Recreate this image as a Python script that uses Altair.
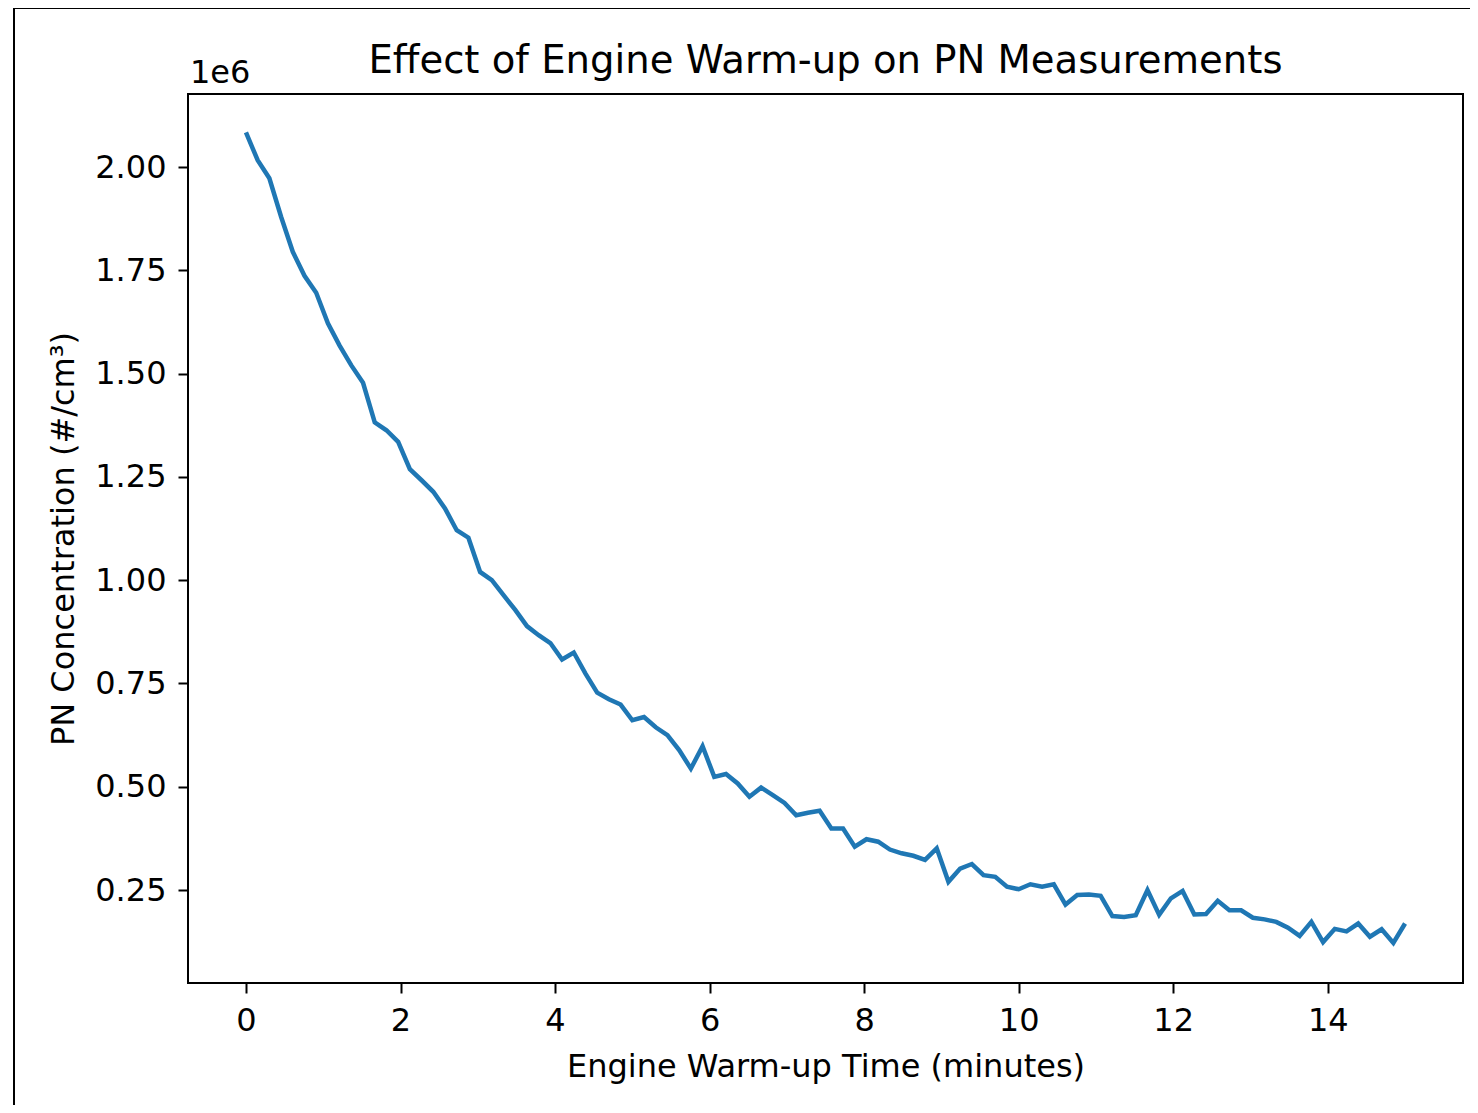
import altair as alt
import pandas as pd
import numpy as np

# Engine warm-up time (minutes): 100 evenly spaced samples from 0 to 15
n_points = 100
time_start, time_end = 0.0, 15.0

# PN concentration in units of 1e6 #/cm3
pn_millions = [
    2.084, 2.017, 1.973, 1.880, 1.795, 1.737, 1.696, 1.622, 1.568, 1.520,
    1.478, 1.382, 1.363, 1.335, 1.269, 1.242, 1.214, 1.174, 1.121, 1.103,
    1.020, 1.000, 0.964, 0.928, 0.889, 0.867, 0.848, 0.808, 0.825, 0.774,
    0.728, 0.712, 0.699, 0.661, 0.669, 0.644, 0.625, 0.589, 0.544, 0.598,
    0.524, 0.531, 0.508, 0.476, 0.498, 0.480, 0.461, 0.431, 0.437, 0.442,
    0.399, 0.399, 0.355, 0.373, 0.367, 0.348, 0.339, 0.333, 0.323, 0.351,
    0.270, 0.302, 0.313, 0.286, 0.282, 0.258, 0.252, 0.264, 0.258, 0.264,
    0.215, 0.238, 0.239, 0.236, 0.187, 0.185, 0.189, 0.250, 0.190, 0.230,
    0.248, 0.191, 0.192, 0.224, 0.201, 0.201, 0.183, 0.179, 0.173, 0.159,
    0.139, 0.173, 0.124, 0.156, 0.150, 0.169, 0.137, 0.155, 0.122, 0.169,
]

x_ticks = [0, 2, 4, 6, 8, 10, 12, 14]
y_ticks = [0.25e6, 0.5e6, 0.75e6, 1.0e6, 1.25e6, 1.5e6, 1.75e6, 2.0e6]
title_text = "Effect of Engine Warm-up on PN Measurements"

time = np.linspace(time_start, time_end, n_points)
df = pd.DataFrame({"time": time, "pn": np.array(pn_millions) * 1e6})

FONT = "DejaVu Sans"
W, H = 1275, 889
FS = 32

line = alt.Chart(df).mark_line(color="#1f77b4", strokeWidth=4.5, clip=True).encode(
    x=alt.X(
        "time:Q",
        scale=alt.Scale(domain=[-0.75, 15.75], nice=False, zero=False),
        axis=alt.Axis(
            values=x_ticks, title="Engine Warm-up Time (minutes)", grid=False,
            tickSize=10, tickWidth=2, tickColor="black", labelPadding=12,
            labelFontSize=FS, titleFontSize=FS, labelFont=FONT, titleFont=FONT,
            labelColor="black", titleColor="black", titleFontWeight="normal",
            titlePadding=15, domain=False, labelFlush=False,
        ),
    ),
    y=alt.Y(
        "pn:Q",
        scale=alt.Scale(domain=[0.025e6, 2.177e6], nice=False, zero=False),
        axis=alt.Axis(
            values=y_ticks, title="PN Concentration (#/cm³)", grid=False,
            labelExpr="format(datum.value / 1000000, '.2f')",
            tickSize=10, tickWidth=2, tickColor="black", labelPadding=12,
            labelFontSize=FS, titleFontSize=FS, labelFont=FONT, titleFont=FONT,
            labelColor="black", titleColor="black", titleFontWeight="normal",
            titlePadding=14, domain=False, labelFlush=False,
        ),
    ),
)

offset_text = alt.Chart(pd.DataFrame({"t": ["1e6"]})).mark_text(
    font=FONT, fontSize=FS, align="left", baseline="bottom", color="black"
).encode(x=alt.value(2), y=alt.value(-4), text="t:N")

title_mark = alt.Chart(pd.DataFrame({"t": [title_text]})).mark_text(
    font=FONT, fontSize=38.6, align="center", baseline="alphabetic", color="black"
).encode(x=alt.value(W / 2), y=alt.value(-21), text="t:N")

frame = alt.Chart(pd.DataFrame({"a": [0]})).mark_rect(
    fill=None, stroke="black", strokeWidth=2, clip=False
).encode(x=alt.value(-174), x2=alt.value(1400), y=alt.value(-86), y2=alt.value(1200))

chart = alt.layer(frame, line, offset_text, title_mark).properties(
    width=W, height=H,
    background="white",
    autosize=alt.AutoSizeParams(type="none"),
    padding={"left": 180, "top": 86, "right": 7, "bottom": 122},
).configure_view(stroke="black", strokeWidth=2)

chart.save("out.html", embed_options={"renderer": "svg", "actions": False})
